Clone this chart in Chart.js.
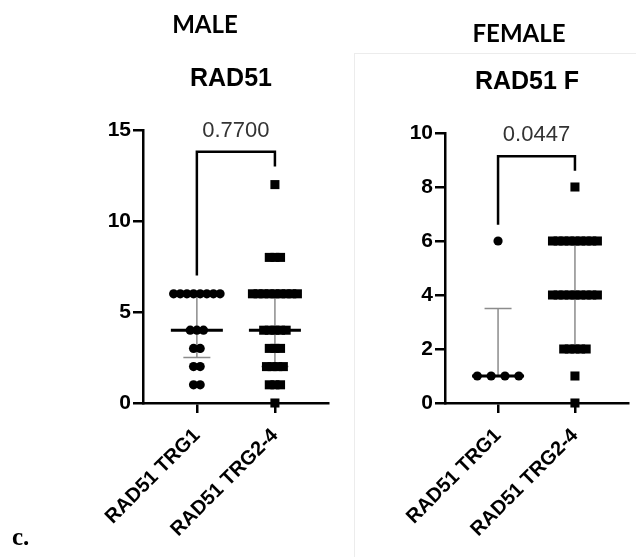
<!DOCTYPE html>
<html>
<head>
<meta charset="utf-8">
<script src="https://cdn.jsdelivr.net/npm/chart.js@4.4.1/dist/chart.umd.min.js"></script>
<style>
  html, body { margin: 0; padding: 0; background: #fff; }
  body { width: 636px; height: 557px; position: relative; overflow: hidden; }
  #male { position: absolute; left: 0; top: 0; }
  #female { position: absolute; left: 350px; top: 0; }
  #panel { position: absolute; left: 354px; top: 53px; width: 282px; height: 504px;
           border-left: 1px solid #ececec; border-top: 1px solid #ececec; }
</style>
</head>
<body>
<div id="panel"></div>
<canvas id="male" width="350" height="557"></canvas>
<canvas id="female" width="286" height="557"></canvas>
<script>
// categories on the x axis
const categories = ['RAD51 TRG1', 'RAD51 TRG2-4']

// male values, one entry per sample
const maleTrg1 = [6, 6, 6, 6, 6, 6, 6, 6, 4, 4, 4, 3, 3, 2, 2, 1, 1]
const maleTrg24 = [12, 8, 8, 8, 6, 6, 6, 6, 6, 6, 6, 6, 6, 4, 4, 4, 4, 4, 3, 3, 3, 2, 2, 2, 2, 1, 1, 1, 0]
const maleMedian = [4, 4]
const maleQ1 = [2.5, 2]
const maleQ3 = [6, 6]
const maleBracket = [13.8, 7.0, 13.0] // top, left leg end, right leg end
const maleP = '0.7700'
const maleYTicks = [0, 5, 10, 15]

// female values
const femaleTrg1 = [6, 1, 1, 1, 1]
const femaleTrg24 = [8, 6, 6, 6, 6, 6, 6, 6, 6, 6, 4, 4, 4, 4, 4, 4, 4, 4, 4, 2, 2, 2, 2, 2, 1, 0]
const femaleMedian = [1, 4]
const femaleQ1 = [1, 2]
const femaleQ3 = [3.5, 6]
const femaleBracket = [9.14, 6.6, 8.6]
const femaleP = '0.0447'
const femaleYTicks = [0, 2, 4, 6, 8, 10]

const SANS = '"Liberation Sans", Arial, sans-serif'

// spread points of equal value side by side (like a scatter dot plot)
function swarm(values, cat, spread) {
    const groups = {}
    values.forEach(v => { groups[v] = (groups[v] || 0) + 1 })
    const pts = []
    Object.keys(groups).forEach(k => {
        const n = groups[k]
        for (let i = 0; i < n; i++) {
            pts.push({ x: cat + (i - (n - 1) / 2) * spread, y: Number(k) })
        }
    })
    return pts
}

const statMarks = {
    id: 'statMarks',
    beforeDatasetsDraw(chart, args, o) {
        const { ctx, scales: { x, y } } = chart
        ctx.save()
        ctx.strokeStyle = '#8c8c8c'
        ctx.lineWidth = 1.5
        o.median.forEach((m, i) => {
            const px = x.getPixelForValue(i + 1)
            const lo = y.getPixelForValue(o.q1[i])
            const hi = y.getPixelForValue(o.q3[i])
            ctx.beginPath()
            ctx.moveTo(px, lo); ctx.lineTo(px, hi)
            ctx.moveTo(px - 13.5, lo); ctx.lineTo(px + 13.5, lo)
            ctx.moveTo(px - 13.5, hi); ctx.lineTo(px + 13.5, hi)
            ctx.stroke()
        })
        ctx.restore()
    },
    afterDatasetsDraw(chart, args, o) {
        const { ctx, scales: { x, y } } = chart
        ctx.save()
        ctx.strokeStyle = '#000'
        ctx.lineWidth = 3
        o.median.forEach((m, i) => {
            const px = x.getPixelForValue(i + 1)
            const py = y.getPixelForValue(m)
            ctx.beginPath()
            ctx.moveTo(px - 26, py); ctx.lineTo(px + 26, py)
            ctx.stroke()
        })
        // significance bracket
        const x1 = x.getPixelForValue(1), x2 = x.getPixelForValue(2)
        const top = y.getPixelForValue(o.bracket[0])
        ctx.lineWidth = 2.5
        ctx.lineJoin = 'miter'
        ctx.beginPath()
        ctx.moveTo(x1, y.getPixelForValue(o.bracket[1]))
        ctx.lineTo(x1, top)
        ctx.lineTo(x2, top)
        ctx.lineTo(x2, y.getPixelForValue(o.bracket[2]))
        ctx.stroke()
        ctx.fillStyle = '#333'
        ctx.font = '22px ' + SANS
        ctx.textAlign = 'center'
        ctx.textBaseline = 'middle'
        ctx.fillText(o.p, (x1 + x2) / 2, top - 21)
        ctx.restore()
    },
    afterDraw(chart, args, o) {
        const ctx = chart.ctx
        ctx.save()
        ctx.fillStyle = '#000'
        ctx.textAlign = 'center'
        ctx.textBaseline = 'middle'
        ctx.font = 'bold 24px Lato, "Open Sans", sans-serif'
        ctx.fillText(o.group, o.groupPos[0], o.groupPos[1])
        ctx.font = 'bold 25px ' + SANS
        ctx.fillText(o.title, o.titlePos[0], o.titlePos[1])
        if (o.panelLabel) {
            ctx.textAlign = 'left'
            ctx.textBaseline = 'alphabetic'
            ctx.font = 'bold 25px "Liberation Serif", "Times New Roman", serif'
            ctx.fillText(o.panelLabel, 12, 545)
        }
        ctx.restore()
    }
}

function makeChart(id, cfg) {
    const W = cfg.width
    return new Chart(document.getElementById(id), {
        type: 'scatter',
        data: {
            datasets: [
                {
                    data: swarm(cfg.a, 1, cfg.spreadA),
                    pointStyle: 'circle', pointRadius: 4.6,
                    backgroundColor: '#000', borderColor: '#000', borderWidth: 0,
                    clip: false
                },
                {
                    data: swarm(cfg.b, 2, cfg.spreadB),
                    pointStyle: 'rect', pointRadius: 6.4,
                    backgroundColor: '#000', borderColor: '#000', borderWidth: 0,
                    clip: false
                }
            ]
        },
        options: {
            responsive: false,
            animation: false,
            events: [],
            layout: { padding: { top: cfg.top, right: W - cfg.right, left: 0, bottom: 0 } },
            plugins: {
                legend: { display: false },
                tooltip: { enabled: false },
                statMarks: {
                    median: cfg.median, q1: cfg.q1, q3: cfg.q3,
                    bracket: cfg.bracket, p: cfg.p,
                    group: cfg.group, groupPos: cfg.groupPos,
                    title: cfg.title, titlePos: cfg.titlePos,
                    panelLabel: cfg.panelLabel
                }
            },
            scales: {
                x: {
                    type: 'linear',
                    min: 0.31, max: cfg.xMax,
                    afterBuildTicks: s => { s.ticks = [{ value: 1 }, { value: 2 }] },
                    afterFit: s => { s.height = 557 - cfg.bottom },
                    ticks: {
                        autoSkip: false, minRotation: 45, maxRotation: 45,
                        padding: 11,
                        color: '#000',
                        font: { family: SANS, size: 20, weight: 'bold' },
                        callback: v => categories[v - 1]
                    },
                    grid: { drawOnChartArea: false, drawTicks: true, tickLength: 10, color: '#000', lineWidth: 2.5 },
                    border: { display: true, color: '#000', width: 2.5 }
                },
                y: {
                    min: 0, max: cfg.yMax,
                    afterBuildTicks: s => { s.ticks = cfg.yTicks.map(v => ({ value: v })) },
                    afterFit: s => { s.width = cfg.left },
                    ticks: {
                        padding: 2,
                        color: '#000',
                        font: { family: SANS, size: 21, weight: 'bold' }
                    },
                    grid: { drawOnChartArea: false, drawTicks: true, tickLength: 10, color: '#000', lineWidth: 2.5 },
                    border: { display: true, color: '#000', width: 2.5 }
                }
            }
        },
        plugins: [statMarks]
    })
}

makeChart('male', {
    width: 350, left: 143, right: 328, top: 130, bottom: 403,
    xMax: 2.68, yMax: 15, yTicks: maleYTicks,
    a: maleTrg1, b: maleTrg24, spreadA: 0.085, spreadB: 0.072,
    median: maleMedian, q1: maleQ1, q3: maleQ3,
    bracket: maleBracket, p: maleP,
    group: 'MALE', groupPos: [205, 25],
    title: 'RAD51', titlePos: [231, 79],
    panelLabel: 'c.'
})

makeChart('female', {
    width: 286, left: 95, right: 278, top: 133, bottom: 403,
    xMax: 2.69, yMax: 10, yTicks: femaleYTicks,
    a: femaleTrg1, b: femaleTrg24, spreadA: 0.18, spreadB: 0.073,
    median: femaleMedian, q1: femaleQ1, q3: femaleQ3,
    bracket: femaleBracket, p: femaleP,
    group: 'FEMALE', groupPos: [169, 34],
    title: 'RAD51 F', titlePos: [177, 82]
})
</script>
</body>
</html>
